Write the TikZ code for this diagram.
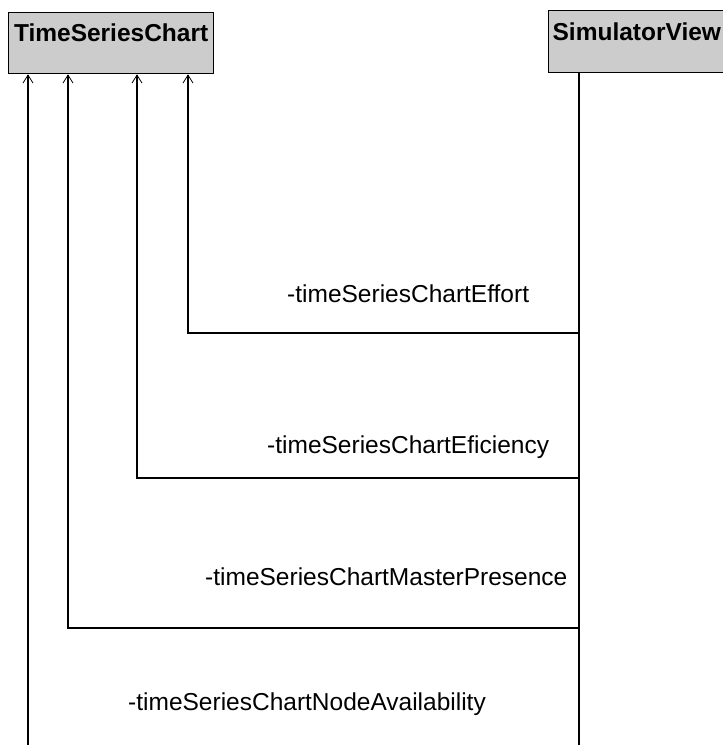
\documentclass[tikz,border=0pt]{standalone}
\usepackage{fontspec}
\setmainfont{Liberation Sans}
\usetikzlibrary{arrows.meta}
\begin{document}
\begin{tikzpicture}[x=1pt,y=-1pt,
  cls/.style={draw=black, line width=1.3pt, fill=black!20, inner xsep=4pt,
    text height=18pt, font=\fontsize{24.5}{28}\selectfont\bfseries},
  assoc/.style={draw=black, line width=1.2pt, -{Straight Barb[length=8pt,width=10pt,line width=0.8pt]}},
  role/.style={anchor=base west, inner sep=0pt, font=\fontsize{24.5}{28}\selectfont}]
\useasboundingbox (0,0) rectangle (723,745);
\clip (0,0) rectangle (723,745);
\fill[white] (0,0) rectangle (723,745);
\node[cls, inner ysep=11pt, text depth=21pt, minimum width=205pt, anchor=north west] (tsc) at (8,12) {TimeSeriesChart};
\node[cls, inner ysep=12pt, text depth=20pt, minimum width=190pt, anchor=north west, text width=182pt, align=left] (sv) at (548,10) {SimulatorView};
% bend points
\coordinate (b1) at (188,333);
\coordinate (b2) at (137,478);
\coordinate (b3) at (68,628);
\coordinate (b4) at (28,770);
\coordinate (s) at (579,0);
\draw[assoc] (sv.south -| s) |- (b1) -- (tsc.south -| b1);
\draw[assoc] (sv.south -| s) |- (b2) -- (tsc.south -| b2);
\draw[assoc] (sv.south -| s) |- (b3) -- (tsc.south -| b3);
\draw[assoc] (sv.south -| s) |- (b4) -- (tsc.south -| b4);
\node[role] (l1) at (287,302) {-timeSeriesChartEffort};
\node[role] (l2) at (267,453) {-timeSeriesChartEficiency};
\node[role] (l3) at (205,585) {-timeSeriesChartMasterPresence};
\node[role] (l4) at (128,710) {-timeSeriesChartNodeAvailability};
\end{tikzpicture}
\end{document}
